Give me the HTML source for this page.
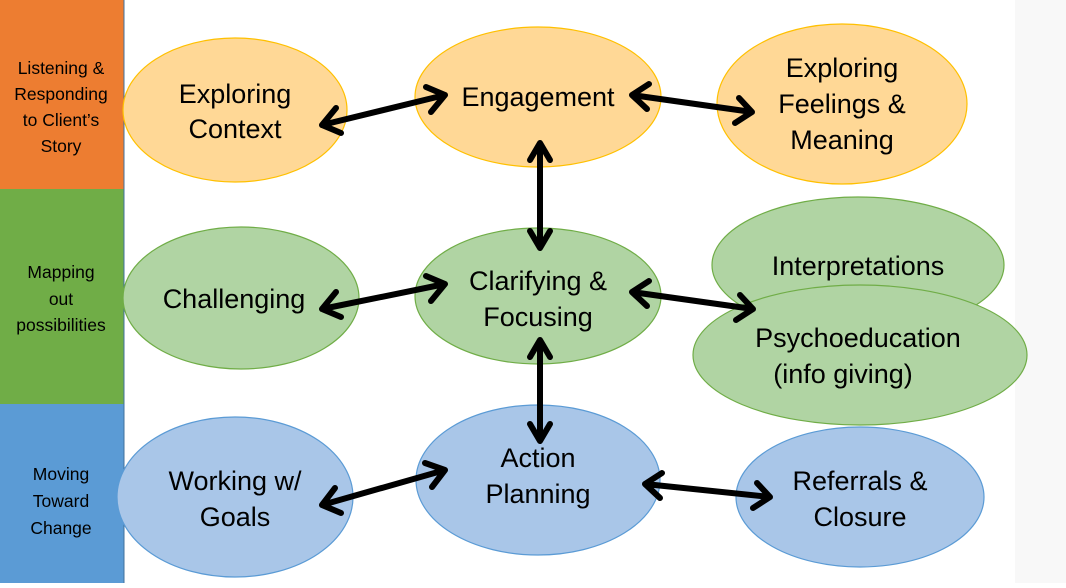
<!DOCTYPE html>
<html><head><meta charset="utf-8"><style>
body{margin:0;width:1066px;height:583px;overflow:hidden;background:#fff;font-family:"Liberation Sans",sans-serif}
</style></head><body>
<svg width="1066" height="583" xmlns="http://www.w3.org/2000/svg" font-family="Liberation Sans, sans-serif">
<rect x="1015" y="0" width="51" height="583" fill="#f8f8f8"/>
<rect x="0" y="0" width="124" height="189" fill="#ed7d31"/>
<rect x="0" y="189" width="124" height="215" fill="#70ad47"/>
<rect x="0" y="404" width="124" height="179" fill="#5b9bd5"/>
<line x1="124" y1="0" x2="124" y2="583" stroke="#41719c" stroke-width="1"/>
<g font-size="17.5" text-anchor="middle" fill="#000">
<text x="61" y="74">Listening &amp;</text><text x="61" y="100">Responding</text><text x="61" y="126">to Client’s</text><text x="61" y="152">Story</text>
<text x="61" y="278">Mapping</text><text x="61" y="305">out</text><text x="61" y="331">possibilities</text>
<text x="61" y="480">Moving</text><text x="61" y="507">Toward</text><text x="61" y="534">Change</text>
</g>
<g stroke-width="1.2">
<ellipse cx="235" cy="110" rx="112" ry="72" fill="#ffd896" stroke="#ffc000"/>
<ellipse cx="538" cy="97" rx="123" ry="70" fill="#ffd896" stroke="#ffc000"/>
<ellipse cx="842" cy="104" rx="125" ry="80" fill="#ffd896" stroke="#ffc000"/>
<ellipse cx="241" cy="298" rx="118" ry="71" fill="#b0d4a3" stroke="#70ad47"/>
<ellipse cx="538" cy="296" rx="123" ry="68" fill="#b0d4a3" stroke="#70ad47"/>
<ellipse cx="858" cy="265" rx="146" ry="68" fill="#b0d4a3" stroke="#70ad47"/>
<ellipse cx="860" cy="355" rx="167" ry="70" fill="#b0d4a3" stroke="#70ad47"/>
<ellipse cx="235" cy="497" rx="118" ry="80" fill="#a9c6e8" stroke="#5b9bd5"/>
<ellipse cx="538" cy="480" rx="122" ry="75" fill="#a9c6e8" stroke="#5b9bd5"/>
<ellipse cx="860" cy="497" rx="124" ry="70" fill="#a9c6e8" stroke="#5b9bd5"/>
</g>
<g font-size="27" text-anchor="middle" fill="#000">
<text x="235" y="103">Exploring</text><text x="235" y="138">Context</text>
<text x="538" y="106">Engagement</text>
<text x="842" y="77">Exploring</text><text x="842" y="113">Feelings &amp;</text><text x="842" y="149">Meaning</text>
<text x="234" y="308">Challenging</text>
<text x="538" y="290">Clarifying &amp;</text><text x="538" y="326">Focusing</text>
<text x="858" y="275">Interpretations</text>
<text x="858" y="347">Psychoeducation</text><text x="843" y="383">(info giving)</text>
<text x="235" y="490">Working w/</text><text x="235" y="526">Goals</text>
<text x="538" y="467">Action</text><text x="538" y="503">Planning</text>
<text x="860" y="490">Referrals &amp;</text><text x="860" y="526">Closure</text>
</g>
<g stroke="#000" stroke-width="6" fill="none" stroke-linecap="round" stroke-linejoin="round">
<path d="M322 125 L445 95 M336 108 L322 125 L341 133 M426 87 L445 95 L431 112"/>
<path d="M632 95 L752 112 M649 84 L632 95 L647 109 M739 98 L752 112 L735 123"/>
<path d="M540 143 L540 248 M530 160 L540 143 L550 160 M530 231 L540 248 L550 231"/>
<path d="M322 309 L445 284 M336 292 L322 309 L341 317 M426 276 L445 284 L431 301"/>
<path d="M632 292 L753 309 M649 281 L632 292 L647 306 M740 295 L753 309 L736 320"/>
<path d="M540 340 L540 441 M530 357 L540 340 L550 357 M530 424 L540 441 L550 424"/>
<path d="M322 505 L445 470 M335 488 L322 505 L341 513 M425 463 L445 470 L432 487"/>
<path d="M645 484 L770 497 M662 473 L645 484 L660 498 M757 483 L770 497 L753 508"/>
</g>
</svg>
</body></html>
